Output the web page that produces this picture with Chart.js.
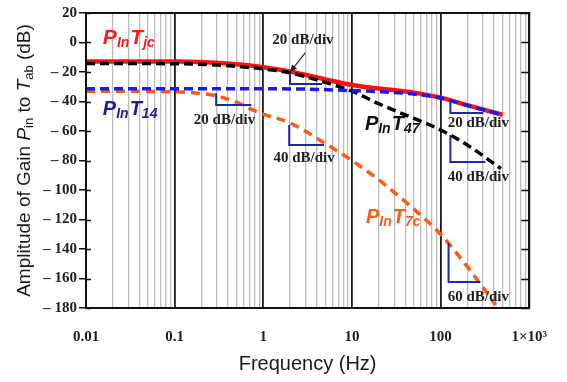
<!DOCTYPE html>
<html><head><meta charset="utf-8">
<script src="https://cdn.jsdelivr.net/npm/chart.js@4"></script>
<style>html,body{margin:0;padding:0;background:#fff;}canvas{display:block;}</style>
</head><body>
<canvas id="c" width="567" height="382"></canvas>
<script>
// ---- data ----
const decades = [0.01, 0.1, 1, 10, 100, 1000];
const xTickLabels = ['0.01', '0.1', '1', '10', '100', '1\u00d710\u00b3'];
const yTicks = [20, 0, -20, -40, -60, -80, -100, -120, -140, -160, -180];

const tjcFreq = [0.01, 0.05, 0.1, 0.2, 0.5, 1, 2, 5, 10, 20, 50, 100, 200, 500];
const tjcGain = [-12.8, -12.8, -12.9, -13.3, -14.8, -16.8, -19.7, -25, -28.8, -31.2, -34, -37.4, -42.5, -49];

const t14Freq = [0.01, 0.1, 1, 3, 10, 20, 50, 100, 200, 500];
const t14Gain = [-31.3, -31.3, -31.4, -31.6, -32.6, -33.3, -35, -37.6, -42.6, -49];

const t47Freq = [0.01, 0.1, 0.3, 1, 2, 5, 10, 20, 50, 100, 200, 480];
const t47Gain = [-14.2, -14.4, -15.3, -17.9, -20.6, -27, -33, -41.5, -51.5, -59.3, -69.5, -85.5];

const t7cFreq = [0.01, 0.1, 0.2, 0.3, 0.5, 0.75, 1, 2, 5, 10, 20, 50, 100, 200, 300, 420];
const t7cGain = [-33, -33.4, -34.6, -36.3, -40.5, -45.5, -48.5, -54.5, -68.5, -80, -93, -113, -130, -152, -166, -178];

const seriesNames = ['PinTjc', 'PinT14', 'PinT47', 'PinT7c'];

// ---- annotation definitions (data coordinates) ----
const slopeMarks = [
  {f0: 2.0, f1: 4.6, v0: -20.7, v1: -28.1, text: '20 dB/div', tf: 2.8, tv: 1.7, arrow: [2.97, -7.1, 2.01, -20]},
  {f0: 0.294, f1: 0.733, v0: -34.2, v1: -42.4, text: '20 dB/div', tf: 0.365, tv: -52.5},
  {f0: 1.96, f1: 4.84, v0: -55.9, v1: -69.5, text: '40 dB/div', tf: 2.89, tv: -78.3},
  {f0: 129, f1: 304, v0: -40.3, v1: -47.8, text: '20 dB/div', tf: 267, tv: -54.6},
  {f0: 129, f1: 320, v0: -62.7, v1: -81, text: '40 dB/div', tf: 267, tv: -91.2},
  {f0: 123, f1: 281, v0: -136, v1: -162.4, text: '60 dB/div', tf: 267, tv: -172.5}
];
const seriesLabels = [
  {f: 0.0155, v: -1, main: ['P', 'T'], sub: ['In', 'jc'], color: '#ff1a1a', size: 21},
  {f: 0.0155, v: -49.2, main: ['P', 'T'], sub: ['In', '14'], color: '#1c1ca0', size: 20},
  {f: 14, v: -59.3, main: ['P', 'T'], sub: ['In', '47'], color: '#111111', size: 20},
  {f: 14.4, v: -122.4, main: ['P', 'T'], sub: ['In', '7c'], color: '#ff5a14', size: 20}
];

const toPts = (fx, gy) => fx.map((x, i) => ({x: x, y: gy[i]}));
const isDecade = v => decades.some(d => Math.abs(v - d) / d < 1e-6);

const minorTicks = [];
for (let e = -2; e <= 3; e++) {
  for (let m = 1; m <= 9; m++) {
    const v = +(m * Math.pow(10, e)).toPrecision(6);
    if (v <= 1000) minorTicks.push(v);
  }
}

const SERIF = '"Liberation Serif", "Times New Roman", serif';
const SANS = '"Liberation Sans", Arial, sans-serif';

const deco = {
  id: 'deco',
  afterDatasetsDraw(chart) {
    const ctx = chart.ctx, a = chart.chartArea;
    const xs = chart.scales.x, ys = chart.scales.y;
    const px = f => xs.getPixelForValue(f), py = v => ys.getPixelForValue(v);
    ctx.save();
    // frame
    ctx.strokeStyle = '#111'; ctx.lineWidth = 2;
    ctx.strokeRect(a.left, a.top, a.right - a.left, a.bottom - a.top);
    // inward ticks
    ctx.lineWidth = 1.5;
    yTicks.forEach(v => {
      const y = Math.round(py(v)) + 0.5;
      ctx.beginPath();
      ctx.moveTo(a.right - 8, y); ctx.lineTo(a.right, y);
      ctx.moveTo(a.left, y); ctx.lineTo(a.left + 5, y);
      ctx.stroke();
    });
    // slope markers
    slopeMarks.forEach(m => {
      ctx.strokeStyle = '#1a2aa8'; ctx.lineWidth = 2;
      ctx.beginPath();
      ctx.moveTo(px(m.f0), py(m.v0));
      ctx.lineTo(px(m.f0), py(m.v1));
      ctx.lineTo(px(m.f1), py(m.v1));
      ctx.stroke();
      ctx.fillStyle = '#1e1e1e';
      ctx.font = 'bold 15px ' + SERIF;
      ctx.textAlign = 'center'; ctx.textBaseline = 'middle';
      ctx.fillText(m.text, px(m.tf), py(m.tv));
      if (m.arrow) {
        const x0 = px(m.arrow[0]), y0 = py(m.arrow[1]), x1 = px(m.arrow[2]), y1 = py(m.arrow[3]);
        ctx.strokeStyle = '#222'; ctx.lineWidth = 1.2;
        ctx.beginPath(); ctx.moveTo(x0, y0); ctx.lineTo(x1, y1); ctx.stroke();
        const ang = Math.atan2(y1 - y0, x1 - x0), L = 7, W = 3.2;
        ctx.fillStyle = '#222';
        ctx.beginPath();
        ctx.moveTo(x1, y1);
        ctx.lineTo(x1 - L * Math.cos(ang) + W * Math.sin(ang), y1 - L * Math.sin(ang) - W * Math.cos(ang));
        ctx.lineTo(x1 - L * Math.cos(ang) - W * Math.sin(ang), y1 - L * Math.sin(ang) + W * Math.cos(ang));
        ctx.closePath(); ctx.fill();
      }
    });
    // series labels
    ctx.textAlign = 'left'; ctx.textBaseline = 'alphabetic';
    seriesLabels.forEach(s => {
      let x = px(s.f); const y = py(s.v);
      ctx.fillStyle = s.color;
      for (let i = 0; i < 2; i++) {
        ctx.font = 'italic bold ' + s.size + 'px ' + SANS;
        ctx.fillText(s.main[i], x, y);
        x += ctx.measureText(s.main[i]).width;
        ctx.font = 'italic bold ' + Math.round(s.size * 0.68) + 'px ' + SANS;
        ctx.fillText(s.sub[i], x, y + 3);
        x += ctx.measureText(s.sub[i]).width + 1;
      }
    });
    ctx.restore();
  },
  afterDraw(chart) {
    const ctx = chart.ctx, a = chart.chartArea;
    ctx.save();
    ctx.fillStyle = '#1a1a1a';
    // x title
    ctx.font = '20px ' + SANS;
    ctx.textAlign = 'center'; ctx.textBaseline = 'middle';
    ctx.fillText('Frequency (Hz)', (a.left + a.right) / 2, 364);
    // y title (rich)
    const fs = 19, sfs = 13;
    const parts = [
      {t: 'Amplitude of Gain ', f: fs + 'px ' + SANS},
      {t: 'P', f: 'italic ' + fs + 'px ' + SANS},
      {t: 'in', f: sfs + 'px ' + SANS, dy: 4},
      {t: ' to ', f: fs + 'px ' + SANS},
      {t: 'T', f: 'italic ' + fs + 'px ' + SANS},
      {t: 'ab', f: sfs + 'px ' + SANS, dy: 4},
      {t: ' (dB)', f: fs + 'px ' + SANS}
    ];
    let total = 0;
    parts.forEach(p => { ctx.font = p.f; p.w = ctx.measureText(p.t).width; total += p.w; });
    ctx.translate(25, (a.top + a.bottom) / 2);
    ctx.rotate(-Math.PI / 2);
    ctx.textAlign = 'left'; ctx.textBaseline = 'middle';
    let x = -total / 2;
    parts.forEach(p => { ctx.font = p.f; ctx.fillText(p.t, x, p.dy || 0); x += p.w; });
    ctx.restore();
  }
};

new Chart(document.getElementById('c'), {
  type: 'line',
  data: {
    datasets: [
      {label: seriesNames[0], data: toPts(tjcFreq, tjcGain), borderColor: '#ff1010', borderWidth: 4.5, order: 4},
      {label: seriesNames[1], data: toPts(t14Freq, t14Gain), borderColor: '#1a1aee', borderWidth: 3.5, borderDash: [9, 5], order: 1},
      {label: seriesNames[2], data: toPts(t47Freq, t47Gain), borderColor: '#000000', borderWidth: 3.5, borderDash: [9, 5], order: 2},
      {label: seriesNames[3], data: toPts(t7cFreq, t7cGain), borderColor: '#ff5a14', borderWidth: 3.5, borderDash: [9, 6], order: 3}
    ]
  },
  options: {
    responsive: false,
    animation: false,
    devicePixelRatio: 1,
    layout: {padding: {left: 0, top: 13, right: 36, bottom: 0}},
    elements: {
      point: {radius: 0},
      line: {cubicInterpolationMode: 'monotone', fill: false, borderCapStyle: 'butt'}
    },
    plugins: {legend: {display: false}, tooltip: {enabled: false}},
    scales: {
      x: {
        type: 'logarithmic', min: 0.01, max: 1000,
        afterBuildTicks: s => { s.ticks = minorTicks.map(v => ({value: v})); },
        afterFit: s => { s.height = 74; },
        border: {display: false},
        grid: {
          drawTicks: false,
          color: c => (c.tick && isDecade(c.tick.value)) ? '#1a1a1a' : '#bdbdbd',
          lineWidth: c => (c.tick && isDecade(c.tick.value)) ? 1.8 : 1.3
        },
        ticks: {
          autoSkip: false, maxRotation: 0, padding: 20,
          color: '#1e1e1e',
          font: {family: SERIF, size: 15, weight: 'bold'},
          callback: v => { const i = decades.findIndex(d => Math.abs(v - d) / d < 1e-6); return i >= 0 ? xTickLabels[i] : ''; }
        }
      },
      y: {
        type: 'linear', min: -180, max: 20,
        afterBuildTicks: s => { s.ticks = yTicks.map(v => ({value: v})); },
        afterFit: s => { s.width = 86; },
        border: {display: false},
        grid: {drawOnChartArea: false, drawTicks: true, tickLength: 7, color: '#111', lineWidth: 1.5},
        ticks: {
          padding: 2, color: '#1e1e1e',
          font: {family: SERIF, size: 15, weight: 'bold'},
          callback: v => v < 0 ? '\u2013 ' + Math.abs(v) : String(v)
        }
      }
    }
  },
  plugins: [deco]
});
</script>
</body></html>
